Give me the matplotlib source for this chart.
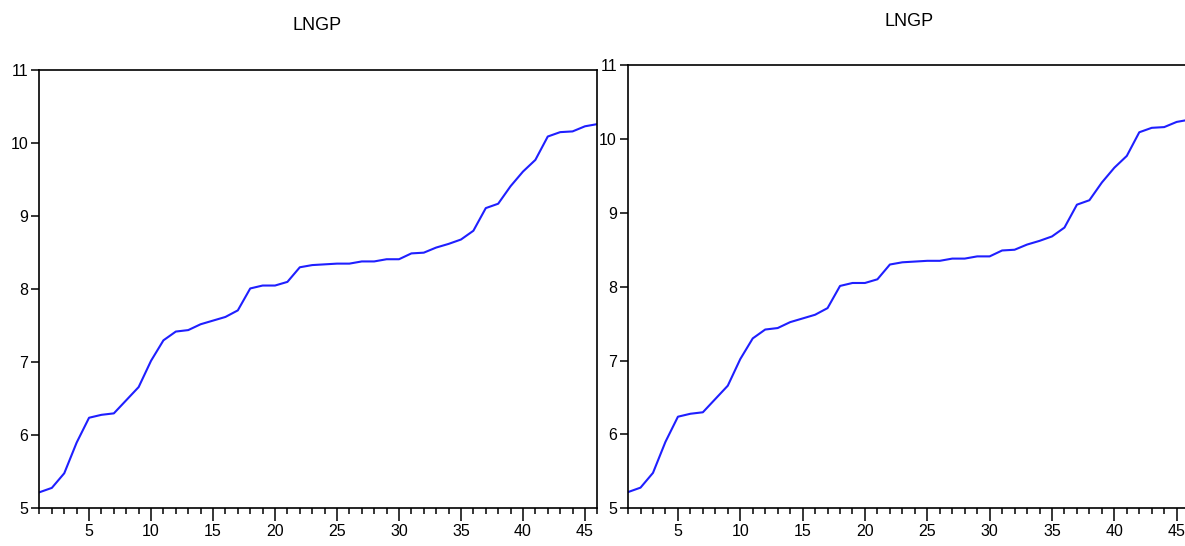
import matplotlib.pyplot as plt
from matplotlib.ticker import MultipleLocator

plt.rcParams['font.family'] = ['Liberation Sans Narrow', 'Liberation Sans', 'DejaVu Sans']

# LNGP series, observations 1..46
obs = list(range(1, 47))
lngp = [5.22, 5.28, 5.48, 5.90, 6.24, 6.28, 6.30, 6.48, 6.66, 7.02,
        7.30, 7.42, 7.44, 7.52, 7.57, 7.62, 7.71, 8.01, 8.05, 8.05,
        8.10, 8.30, 8.33, 8.34, 8.35, 8.35, 8.38, 8.38, 8.41, 8.41,
        8.49, 8.50, 8.57, 8.62, 8.68, 8.80, 9.11, 9.17, 9.41, 9.61,
        9.77, 10.09, 10.15, 10.16, 10.23, 10.26]
title = 'LNGP'
yticks = [5, 6, 7, 8, 9, 10, 11]

fig = plt.figure(figsize=(11.85, 5.46), dpi=100)

# two copies of the same EViews graph, side by side
panels = [
    ([0.0333, 0.069, 0.4708, 0.8027], (317 / 1185, 1 - 25 / 546)),
    ([0.5300, 0.069, 0.4735, 0.8119], (909 / 1185, 1 - 21 / 546)),
]

for rect, title_xy in panels:
    ax = fig.add_axes(rect)
    ax.plot(obs, lngp, color='#1f1fff', lw=1.5)
    ax.set_xlim(1, 46)
    ax.set_ylim(5, 11)
    ax.set_yticks(yticks)
    ax.xaxis.set_major_locator(MultipleLocator(5))
    ax.xaxis.set_minor_locator(MultipleLocator(1))
    ax.tick_params(axis='y', direction='out', length=6, width=1.1, labelsize=11.5, pad=2)
    ax.tick_params(axis='x', which='major', direction='out', length=9, width=1.1, labelsize=11.5, pad=2)
    ax.tick_params(axis='x', which='minor', direction='out', length=4.5, width=1.1)
    for s in ax.spines.values():
        s.set_linewidth(1.2)
    fig.text(title_xy[0], title_xy[1], title, ha='center', va='center', fontsize=13)

fig.savefig('out.png', dpi=100)
